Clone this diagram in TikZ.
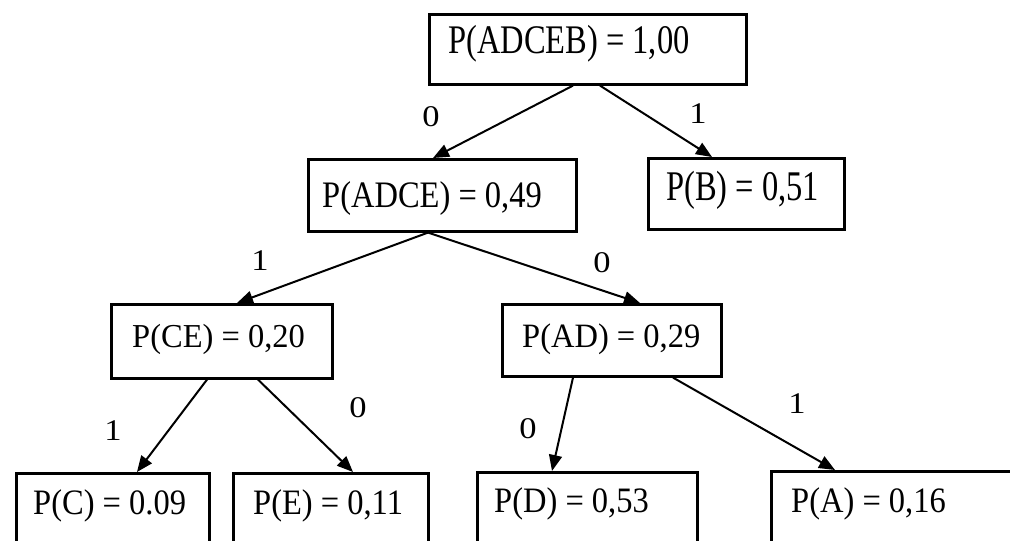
\documentclass[tikz,border=0pt]{standalone}
\usepackage{fontspec}
\setmainfont{Liberation Serif}
\usetikzlibrary{arrows.meta}
% text stretched by given horizontal and vertical factors
\newcommand{\tallText}[2]{\scalebox{1}[#1]{#2}}
\newcommand{\wideText}[2]{\scalebox{#1}[1]{#2}}
\begin{document}
\begin{tikzpicture}[x=1pt,y=-1pt,
  box/.style={draw,line width=2.6pt,rectangle,inner sep=0pt,anchor=north west},
  prob/.style={anchor=base west,inner sep=0pt,font=\fontsize{32.5}{39}\selectfont},
  bit/.style={anchor=base,inner sep=0pt,font=\fontsize{30}{36}\selectfont},
  link/.style={line width=2pt,-{Triangle[length=16pt,width=13pt]}}]
\useasboundingbox (0,0) rectangle (1010,541);
\clip (0,0) rectangle (1010,541);
\fill[white] (0,0) rectangle (1010,541);

% boxes of the coding tree
\node[box,minimum width=317pt,minimum height=70pt] (root) at (428,13) {};
\node[box,minimum width=268pt,minimum height=72pt] (adce) at (307,158) {};
\node[box,minimum width=196pt,minimum height=71pt] (b)    at (647,157) {};
\node[box,minimum width=221pt,minimum height=74pt] (ce)   at (110,303) {};
\node[box,minimum width=219pt,minimum height=72pt] (ad)   at (501,303) {};
\node[box,minimum width=193pt,minimum height=100pt] (c)   at (15,472) {};
\node[box,minimum width=195pt,minimum height=100pt] (e)   at (232,472) {};
\node[box,minimum width=220pt,minimum height=100pt] (d)   at (476,471) {};
\node[box,minimum width=260pt,minimum height=100pt] (a)   at (770,470) {};

% probabilities
\node[prob] (troot) at (448,53)  {\tallText{1.25}{P(ADCEB) = 1,00}};
\node[prob] (tadce) at (322,207) {\tallText{1.15}{P(ADCE) = 0,49}};
\node[prob] (tb)    at (666,200) {\tallText{1.3}{P(B) = 0,51}};
\node[prob] (tce)   at (132,347) {\tallText{1.03}{P(CE) = 0,20}};
\node[prob] (tad)   at (522,347) {\tallText{1.05}{P(AD) = 0,29}};
\node[prob] (tc)    at (33,514)  {\tallText{1.1}{P(C) = 0.09}};
\node[prob] (te)    at (253,514) {\tallText{1.1}{P(E) = 0,11}};
\node[prob] (td)    at (494,512) {\tallText{1.1}{P(D) = 0,53}};
\node[prob] (ta)    at (791,512) {\tallText{1.1}{P(A) = 0,16}};

% branches
\draw[link] ([xshift=145pt]root.south west) -- ([xshift=126pt]adce.north west);
\draw[link] ([xshift=172pt]root.south west) -- ([xshift=65pt]b.north west);
\draw[link] ([xshift=121pt]adce.south west) -- ([xshift=127pt]ce.north west);
\draw[link] ([xshift=121pt]adce.south west) -- ([xshift=139pt]ad.north west);
\draw[link] ([xshift=97pt]ce.south west)  -- ([xshift=122pt]c.north west);
\draw[link] ([xshift=148pt]ce.south west) -- ([xshift=121pt]e.north west);
\draw[link] ([xshift=72pt]ad.south west)  -- ([xshift=76pt]d.north west);
\draw[link] ([xshift=172pt]ad.south west) -- ([xshift=65pt]a.north west);

% branch bits
\node[bit] (l1) at (431,126) {\wideText{1.15}{0}};
\node[bit] (l2) at (698,123) {\wideText{1.15}{1}};
\node[bit] (l3) at (260,270) {\wideText{1.15}{1}};
\node[bit] (l4) at (602,272) {\wideText{1.15}{0}};
\node[bit] (l5) at (113,440) {\wideText{1.15}{1}};
\node[bit] (l6) at (358,417) {\wideText{1.15}{0}};
\node[bit] (l7) at (528,438) {\wideText{1.15}{0}};
\node[bit] (l8) at (797,413) {\wideText{1.15}{1}};
\end{tikzpicture}
\end{document}
